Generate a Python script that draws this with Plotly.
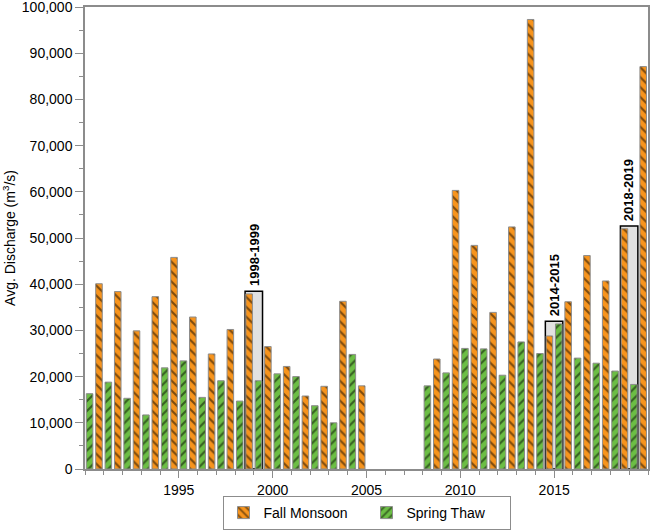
import plotly.graph_objects as go

# seasonal average discharge per year (m3/s); None = no data
years = list(range(1990, 2020))
spring_thaw = [16300, 18800, 15300, 11700, 21900, 23400, 15500, 19100, 14700, 19100,
               20600, 20000, 13700, 10000, 24800, None, None, None, 18000, 20800,
               26100, 26000, 20300, 27500, 25000, 31400, 24000, 22900, 21200, 18300]
fall_monsoon = [40100, 38400, 29900, 37300, 45800, 32900, 24900, 30200, 37900, 26500,
                22200, 15800, 17900, 36300, 18000, None, None, None, 23800, 60300,
                48400, 33900, 52400, 97300, 28800, 36200, 46200, 40700, 52000, 87100]

# highlighted water years: fall of first year + spring of next
highlight_years = [1998, 2014, 2018]

ORANGE = "#F7941D"
GREEN = "#6CBE45"
GREY = "#8C8C8C"
FONT = "Liberation Sans, Arial, sans-serif"

fig = go.Figure()

# boxes behind the highlighted pairs
for y0 in highlight_years:
    i = years.index(y0)
    top = max(fall_monsoon[i], spring_thaw[i + 1]) + 600
    fig.add_shape(type="rect", xref="x", yref="y",
                  x0=y0 + 0.53, x1=y0 + 1.46, y0=0, y1=top,
                  fillcolor="#E1E1E1", line=dict(color="black", width=1.5),
                  layer="below")
    fig.add_annotation(x=y0 + 0.995, y=top, text="%d-%d" % (y0, y0 + 1),
                       textangle=-90, showarrow=False, yanchor="bottom",
                       xanchor="center", yshift=3,
                       font=dict(family=FONT, size=13, color="black", weight="bold"))

fig.add_trace(go.Bar(
    x=years, y=fall_monsoon, name="Fall Monsoon",
    offset=0.57, width=0.35,
    marker=dict(color=ORANGE, line=dict(color=GREY, width=1),
                pattern=dict(shape="\\", fgcolor="black", size=7, solidity=0.3)),
))
fig.add_trace(go.Bar(
    x=years, y=spring_thaw, name="Spring Thaw",
    offset=0.07, width=0.35,
    marker=dict(color=GREEN, line=dict(color=GREY, width=1),
                pattern=dict(shape="/", fgcolor="black", size=7, solidity=0.3)),
))

fig.update_layout(
    width=650, height=530,
    margin=dict(l=85, r=2, t=7, b=61),
    plot_bgcolor="white", paper_bgcolor="white",
    font=dict(family=FONT, size=14, color="black"),
    showlegend=True,
    legend=dict(orientation="h", x=0.5, xanchor="center",
                yref="container", y=0.0, yanchor="bottom",
                bordercolor=GREY, borderwidth=1, font=dict(size=14),
                itemwidth=30, entrywidth=98, traceorder="normal"),
)
fig.update_xaxes(
    range=[1990, 2020], tickvals=[1995, 2000, 2005, 2010, 2015],
    ticks="outside", ticklen=7, tickcolor=GREY, automargin=False,
    minor=dict(dtick=1, tick0=1990, ticks="outside", ticklen=4, tickcolor=GREY),
    showline=True, linecolor=GREY, linewidth=1.5, mirror=True,
    showgrid=False, zeroline=False,
)
fig.update_yaxes(
    range=[0, 100000], tickvals=list(range(0, 100001, 10000)), tickformat=",",
    ticklabeloverflow="allow",
    ticks="outside", ticklen=8, tickcolor=GREY, automargin=False,
    minor=dict(dtick=5000, ticks="outside", ticklen=4, tickcolor=GREY),
    showline=True, linecolor=GREY, linewidth=1.5, mirror=True,
    showgrid=False, zeroline=False,
    title=dict(text="Avg. Discharge (m<sup>3</sup>/s)", standoff=6, font=dict(size=14)),
)

fig.write_html("out.html", config={"displayModeBar": False},
               post_script="document.body.style.margin='0';")
